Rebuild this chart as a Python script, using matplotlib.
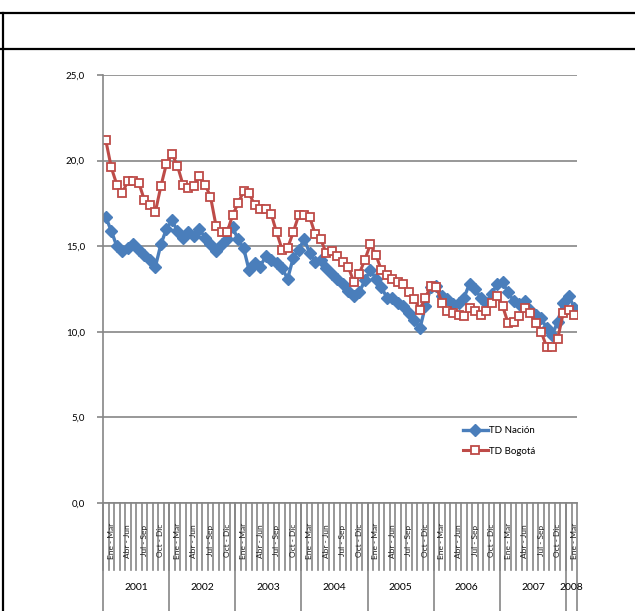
import numpy as np
import matplotlib.pyplot as plt
from matplotlib.lines import Line2D
import matplotlib.transforms as mtransforms

plt.rcParams['font.family'] = ['Lato', 'DejaVu Sans']

years = ['2001', '2002', '2003', '2004', '2005', '2006', '2007', '2008']
trim = ['Dic - Feb', 'Ene - Mar', 'Feb - Abr', 'Mar - May', 'Abr - Jun', 'May - Jul',
        'Jun - Ago', 'Jul - Sep', 'Ago - Oct', 'Sep - Nov', 'Oct - Dic', 'Nov - Ene']
n_per_year = [12, 12, 12, 12, 12, 12, 12, 2]

nacion = [16.7, 15.9, 15.0, 14.7, 14.9, 15.1, 14.8, 14.5, 14.2, 13.8, 15.1, 16.0,
          16.5, 15.9, 15.5, 15.8, 15.6, 16.0, 15.5, 15.1, 14.7, 15.1, 15.4, 16.1,
          15.4, 14.9, 13.6, 14.0, 13.8, 14.4, 14.2, 14.0, 13.7, 13.1, 14.3, 14.8,
          15.4, 14.6, 14.1, 14.2, 13.7, 13.4, 13.1, 12.8, 12.4, 12.1, 12.3, 13.0,
          13.6, 13.1, 12.6, 12.0, 12.0, 11.7, 11.5, 11.1, 10.7, 10.2, 11.5, 12.6,
          12.7, 12.1, 11.9, 11.6, 11.7, 12.0, 12.8, 12.5, 12.0, 11.7, 12.2, 12.8,
          12.9, 12.3, 11.8, 11.6, 11.8, 11.3, 11.0, 10.8, 10.2, 9.8, 10.6, 11.7,
          12.1, 11.4]

bogota = [21.2, 19.6, 18.6, 18.1, 18.8, 18.8, 18.7, 17.7, 17.4, 17.0, 18.5, 19.8,
          20.4, 19.7, 18.6, 18.4, 18.5, 19.1, 18.6, 17.9, 16.2, 15.8, 15.8, 16.8,
          17.5, 18.2, 18.1, 17.4, 17.2, 17.2, 16.9, 15.8, 14.8, 14.9, 15.8, 16.8,
          16.8, 16.7, 15.7, 15.4, 14.6, 14.7, 14.4, 14.1, 13.8, 12.9, 13.4, 14.2,
          15.1, 14.5, 13.6, 13.3, 13.1, 12.9, 12.8, 12.3, 11.9, 11.3, 12.0, 12.7,
          12.6, 11.7, 11.2, 11.1, 11.0, 10.9, 11.4, 11.2, 11.0, 11.2, 11.7, 12.1,
          11.5, 10.5, 10.6, 10.9, 11.4, 11.1, 10.5, 10.0, 9.1, 9.1, 9.6, 11.1,
          11.3, 11.0]

labels = []
for n in n_per_year:
    labels += trim[:n]
x = np.arange(len(nacion))

grey = '#868686'
blue = '#4A7EBB'
red = '#BE4B48'

fig = plt.figure(figsize=(6.35, 6.11), dpi=100)

# table frame
fig.add_artist(Line2D([0, 1], [0.9787, 0.9787], color='black', lw=1.6))
fig.add_artist(Line2D([0, 1], [0.9198, 0.9198], color='black', lw=1.6))
fig.add_artist(Line2D([0.0055, 0.0055], [0, 0.9787], color='black', lw=1.6))

ax = fig.add_axes([0.1622, 0.1768, 0.7465, 0.7005])
ax.set_xlim(-0.5, len(x) - 0.5)
ax.set_ylim(0, 25)
ax.set_yticks(np.arange(0, 26, 5))
ax.set_yticklabels([('%.1f' % v).replace('.', ',') for v in np.arange(0, 26, 5)], fontsize=7)
ax.yaxis.grid(True, color=grey, lw=1.2)
ax.set_axisbelow(True)
for s in ['top', 'right']:
    ax.spines[s].set_visible(False)
ax.spines['left'].set_color(grey)
ax.spines['left'].set_linewidth(1.2)
ax.spines['bottom'].set_color(grey)
ax.spines['bottom'].set_linewidth(1.2)
ax.tick_params(axis='y', length=4, color=grey, width=1.2, pad=9)
ax.set_xticks([])

ax.plot(x, nacion, color=blue, lw=2.4, marker='D', ms=6, mfc=blue, mec=blue, label='TD Nación')
ax.plot(x, bogota, color=red, lw=2.2, marker='s', ms=5.2, mfc='white', mec=red, mew=1.3, label='TD Bogotá')

trans = mtransforms.blended_transform_factory(ax.transData, ax.transAxes)
# category ticks
for b in np.arange(-0.5, len(x) - 0.5, 1.0):
    ax.plot([b, b], [0, -0.157], color=grey, lw=1.2, transform=trans, clip_on=False)
# year dividers
edges = np.concatenate([[0], np.cumsum(n_per_year)]) - 0.5
for e in edges:
    ax.plot([e, e], [0, -0.26], color=grey, lw=1.2, transform=trans, clip_on=False)
for i, lab in enumerate(labels):
    if i % 3 == 1:
        ax.text(i, -0.088, lab, rotation=90, fontsize=6, ha='center', va='center',
                transform=trans, color='#222222')
for k, yr in enumerate(years):
    ax.text((edges[k] + edges[k + 1]) / 2, -0.197, yr, fontsize=7.5, ha='center',
            va='center', transform=trans)

ax.legend(loc='upper left', bbox_to_anchor=(0.74, 0.2), frameon=False, fontsize=7,
          handlelength=2.6, labelspacing=1.2, handletextpad=0.1)

fig.savefig('out.png', dpi=100)
